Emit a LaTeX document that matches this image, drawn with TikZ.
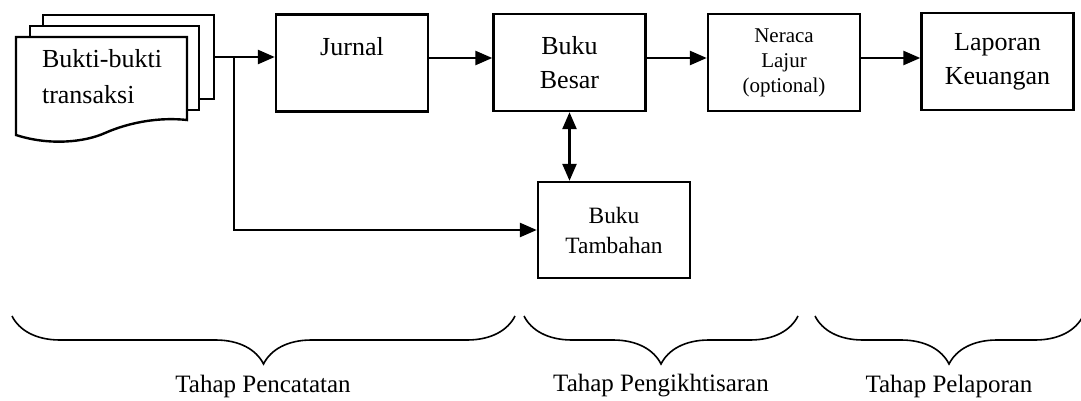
\documentclass[tikz,border=0pt]{standalone}
\usepackage{fontspec}
\setmainfont{Liberation Serif}
\usetikzlibrary{arrows.meta,decorations.pathreplacing}
\tikzset{
    box/.style={draw, line width=1.2pt, fill=white, align=center,
        minimum width=76pt, minimum height=48.5pt, inner sep=0pt},
    page/.style={draw, line width=1.2pt, fill=white, inner sep=0pt},
    arr/.style={line width=1.3pt, -{Triangle[length=8.5pt,width=7pt]}},
    dblarr/.style={line width=1.3pt, {Triangle[length=8.5pt,width=7pt]}-{Triangle[length=8.5pt,width=7pt]}},
    brace/.style={decorate, line width=0.8pt, decoration={brace, mirror, amplitude=24pt}},
    big/.style={font=\fontsize{13}{17}\selectfont},
    small/.style={font=\fontsize{10.5}{12.5}\selectfont},
    mid/.style={font=\fontsize{11.7}{15}\selectfont},
    stage/.style={font=\fontsize{12.5}{15}\selectfont}
}
\begin{document}
\begin{tikzpicture}[x=0.5pt, y=-0.5pt]
            \useasboundingbox[fill=white] (0,0) rectangle (1081,401);
            \node[page, minimum width=85.5pt, minimum height=42pt] (b3) at (128.5,57) {};
            \node[page, minimum width=84.5pt, minimum height=42pt] (b2) at (114.5,68) {};
            \draw[line width=1.2pt, fill=white] (16,37) -- (187,37) -- (187,120)
                .. controls (160,117) and (130,122) .. (105,133)
                .. controls (85,142) and (50,146) .. (16,135) -- cycle;
            \node[big, align=left, anchor=west, font=\fontsize{13}{18}\selectfont] (bukti) at (35,77) {Bukti-bukti\\transaksi};
            \coordinate (flow) at (0,58);
            \coordinate (split) at (234,58);
            \node[box, big] (jurnal) at (352,63) {Jurnal\\\mbox{}};
            \node[box, big] (besar) at (569.5,62.5) {Buku\\Besar};
            \node[box, small] (neraca) at (784,62.5) {Neraca\\Lajur\\(optional)};
            \node[box, big] (laporan) at (997.5,61.5) {Laporan\\Keuangan};
            \node[box, mid, minimum height=48pt] (tambahan) at (614,230) {Buku\\Tambahan};
            \draw[arr] (b3.east) -- (b3.east -| jurnal.west);
            \draw[arr] (split) |- (tambahan.west);
            \draw[arr] (jurnal.east |- flow) -- (besar.west |- flow);
            \draw[arr] (besar.east |- flow) -- (neraca.west |- flow);
            \draw[arr] (neraca.east |- flow) -- (laporan.west |- flow);
            \draw[dblarr] (besar.south) -- (besar.south |- tambahan.north);
            \draw[brace] (12,316) -- (515,316);
            \draw[brace] (524,316) -- (798,316);
            \draw[brace] (815,316) -- (1083,316);
            \node[stage] (catat) at (263,386) {Tahap Pencatatan};
            \node[stage] (ikhtisar) at (661,386) {Tahap Pengikhtisaran};
            \node[stage] (lapor) at (949,386) {Tahap Pelaporan};
        \end{tikzpicture}
\end{document}
